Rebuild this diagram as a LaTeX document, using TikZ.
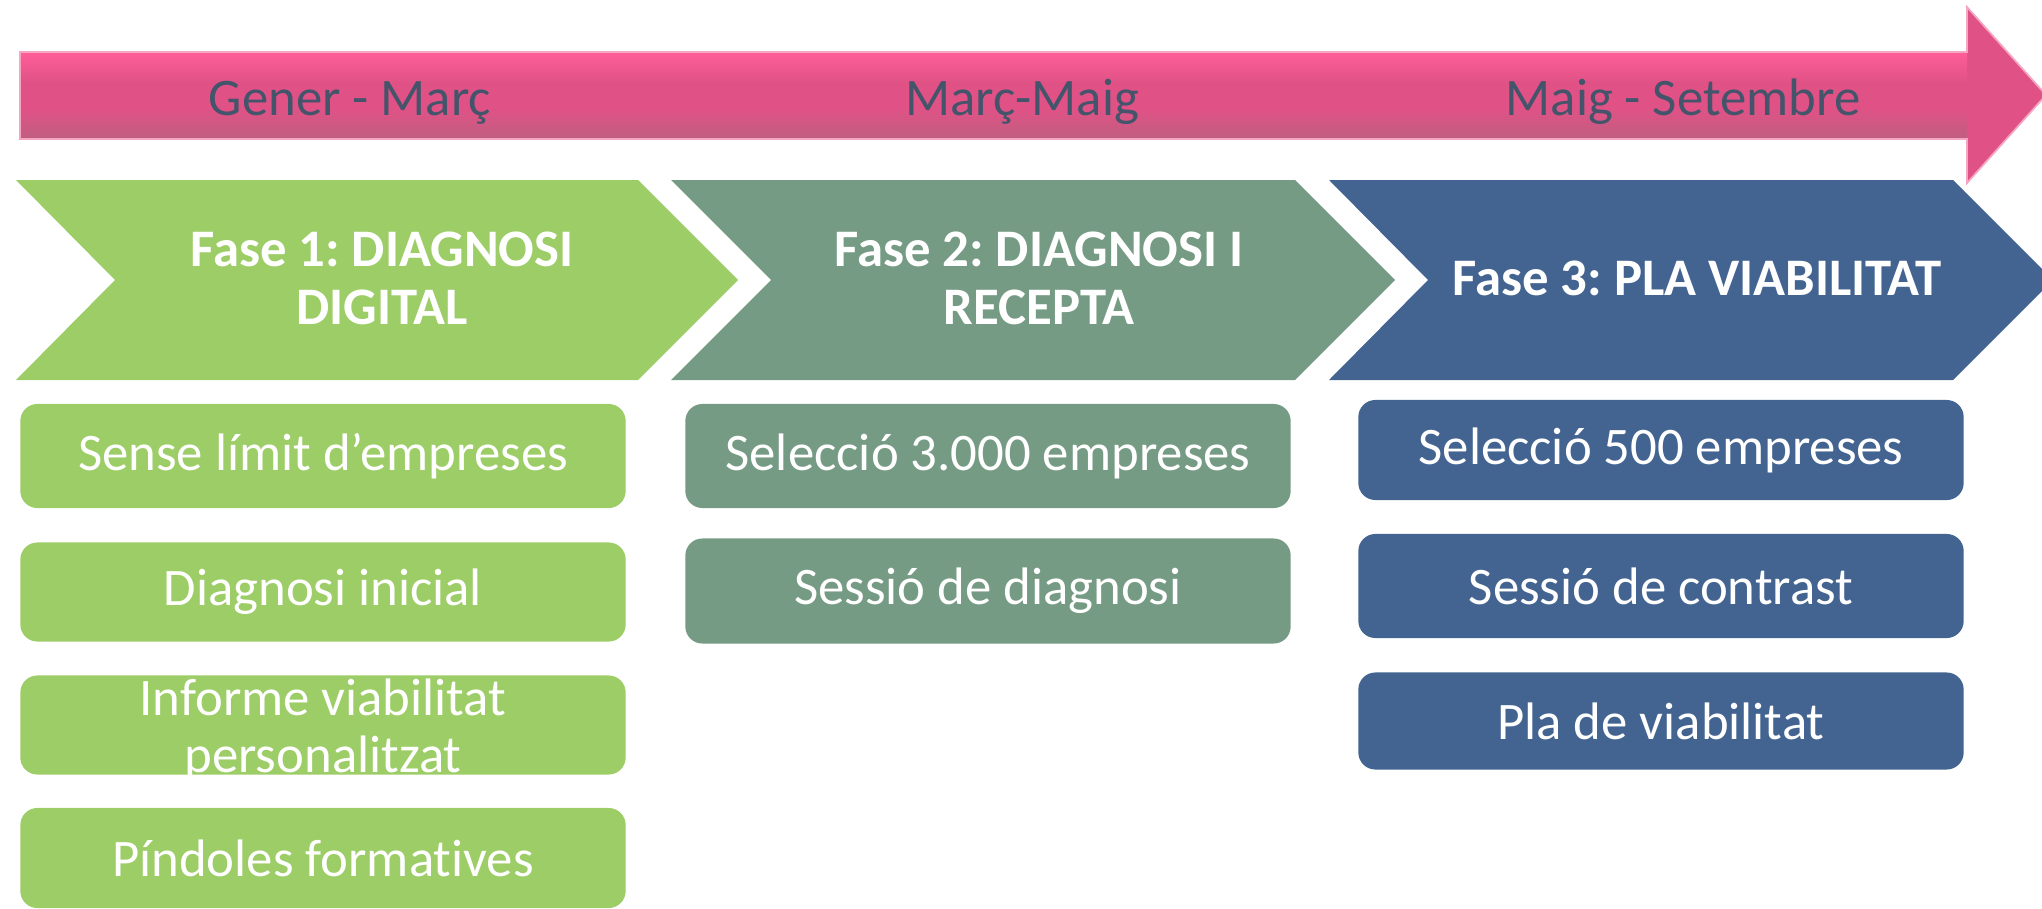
\documentclass[tikz,border=0pt]{standalone}
\usepackage{fontspec}
\setmainfont{Carlito}[Ligatures=NoCommon]
\frenchspacing

\definecolor{pinktop}{HTML}{FF5E97}
\definecolor{pinkmid}{HTML}{E05286}
\definecolor{pinkbot}{HTML}{C05E80}
\definecolor{pinkline}{HTML}{F4A6C2}
\definecolor{monthtext}{HTML}{44546A}
\definecolor{greenph}{HTML}{9DCD67}
\definecolor{sageph}{HTML}{769B84}
\definecolor{blueph}{HTML}{436491}

\begin{document}
\begin{tikzpicture}[x=0.01cm, y=-0.01cm,
month node/.style={anchor=base, text=monthtext, font=\fontsize{15}{18}\selectfont},
phase node/.style={text=white, align=center, font=\fontsize{15}{16.5}\selectfont\bfseries},
task node/.style={rounded corners=0.17cm, minimum width=6.05cm, inner sep=0pt, text=white, align=center, font=\fontsize{15}{16.2}\selectfont}]

\useasboundingbox (0,0) rectangle (2042,909);

% timeline arrow
\begin{scope}
\clip (20,52) -- (1967,52) -- (1967,7) -- (2046,95) -- (1967,183) -- (1967,139) -- (20,139) -- cycle;
\fill[pinkmid] (0,0) rectangle (2060,190);
\shade[top color=pinktop, bottom color=pinkmid] (0,52) rectangle (1967,82);
\shade[top color=pinkmid, bottom color=pinkbot] (0,108) rectangle (1967,139);
\end{scope}
\draw[pinkline, line width=0.5pt] (20,52) -- (1967,52) -- (1967,7) -- (2046,95) -- (1967,183) -- (1967,139) -- (20,139) -- cycle;

% months
\node[month node] (m1) at (350,115) {Gener - Març};
\node[month node] (m2) at (1022,115) {Març-Maig};
\node[month node] (m3) at (1683,115) {Maig - Setembre};

% phase 1
\fill[greenph] (16,180) -- (638,180) -- (738,280) -- (638,380) -- (16,380) -- (115,280) -- cycle;
\node[phase node] (ph1) at (382,278) {Fase 1: DIAGNOSI\\DIGITAL};

% phase 2
\fill[sageph] (671,180) -- (1295,180) -- (1395,280) -- (1295,380) -- (671,380) -- (771,280) -- cycle;
\node[phase node] (ph2) at (1039,278) {Fase 2: DIAGNOSI I\\RECEPTA};

% phase 3
\fill[blueph] (1329,180) -- (1953,180) -- (2053,280) -- (1953,380) -- (1329,380) -- (1428,280) -- cycle;
\node[phase node, anchor=base] (ph3) at (1697,295) {Fase 3: PLA VIABILITAT};

% tasks phase 1
\node[task node, fill=greenph, minimum height=1.04cm] (b11) at (323,456) {Sense límit d’empreses};
\node[task node, fill=greenph, minimum height=0.99cm] (b12) at (323,592) {Diagnosi inicial};
\node[task node, fill=greenph, minimum height=0.99cm] (b13) at (323,725) {};
\node[phase node, font=\fontsize{15}{16.2}\selectfont] (t13) at ([yshift=-0.05cm]b13.center) {Informe viabilitat\\personalitzat};
\node[task node, fill=greenph, minimum height=1.00cm] (b14) at (323,858) {Píndoles formatives};

% tasks phase 2
\node[task node, fill=sageph, minimum height=1.04cm] (b21) at (988,456) {Selecció 3.000 empreses};
\node[task node, fill=sageph, minimum height=1.05cm] (b22) at (988,591) {Sessió de diagnosi};

% tasks phase 3
\node[task node, fill=blueph, minimum height=1.00cm] (b31) at (1661,450) {Selecció 500 empreses};
\node[task node, fill=blueph, minimum height=1.04cm] (b32) at (1661,586) {Sessió de contrast};
\node[task node, fill=blueph, minimum height=0.97cm] (b33) at (1661,721) {Pla de viabilitat};

\end{tikzpicture}
\end{document}
